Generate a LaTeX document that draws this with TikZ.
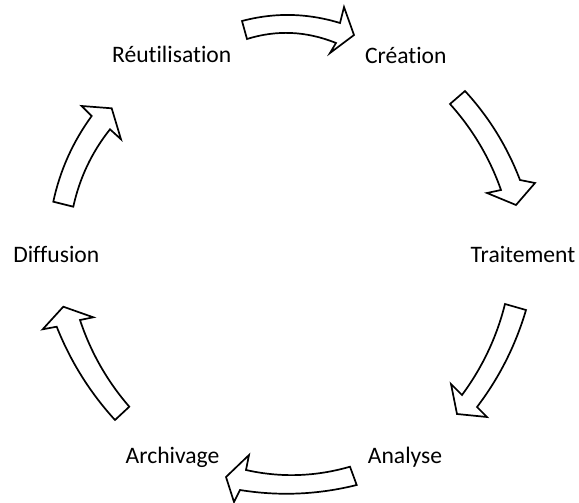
\documentclass[tikz,border=0pt]{standalone}
\usepackage{fontspec}
\setmainfont{Carlito}[Ligatures={NoCommon,NoContextual,NoRare}]
\begin{document}
\begin{tikzpicture}[x=1pt,y=-1pt,
  blockarrow/.style={draw=black,fill=white,line width=1.7pt,line join=miter},
  lbl/.style={anchor=base,inner sep=0pt,font=\fontsize{23.6}{28}\selectfont}]
\useasboundingbox (0,0) rectangle (579,503);

% labels
\node[lbl] (reut) at (171.7,62.7) {Réutilisation};
\node[lbl] (crea) at (405.8,63.3) {Création};
\node[lbl] (trait) at (523,262) {Traitement};
\node[lbl] (diff) at (56.3,262) {Diffusion};
\node[lbl] (arch) at (172.5,463.3) {Archivage};
\node[lbl] (anal) at (405,463.3) {Analyse};

% arrow 1 (top, to the right)
\draw[blockarrow] (242,21) .. controls (274.7,12.3) and (307.3,13) .. (340,23)
  -- (344,7) -- (354,35) -- (330,53) -- (336,43)
  .. controls (306.3,31) and (276.7,29.7) .. (247,39) -- cycle;

% arrow 2 (upper right, downwards)
\draw[blockarrow] (465,91) .. controls (489,117.1) and (507.3,146.8) .. (520,180)
  -- (535,183) -- (516,205) -- (487,193) -- (501,190)
  .. controls (489.7,157.9) and (472.7,129.3) .. (450,104) -- cycle;

% arrow 3 (lower right, down-left)
\draw[blockarrow] (526,310) .. controls (515.6,345.3) and (499.3,377.7) .. (477,407)
  -- (487,417) -- (457,414) -- (451,384) -- (462,395)
  .. controls (482.3,367.5) and (496.7,337.2) .. (505,304) -- cycle;

% arrow 4 (bottom, to the left)
\draw[blockarrow] (350,466.7) .. controls (315.3,476.7) and (280.7,477.8) .. (246,470)
  -- (249,455) -- (226,477) -- (234,502) -- (240,490)
  .. controls (278.9,496.3) and (317.8,494.7) .. (356.7,485) -- cycle;

% arrow 5 (lower left, upwards)
\draw[blockarrow] (115,420) .. controls (89.9,392.5) and (70.5,361.4) .. (56.7,326.7)
  -- (42.7,329.3) -- (63.3,306.7) -- (93.3,317.3) -- (80,320)
  .. controls (90.7,352.2) and (107.1,381.1) .. (129.3,406.7) -- cycle;

% arrow 6 (upper left, up-right)
\draw[blockarrow] (53.3,201.7) .. controls (60,170.4) and (72.8,141.9) .. (91.7,116)
  -- (81.7,106) -- (111.7,108.3) -- (121,139.3) -- (110,129.3)
  .. controls (91.8,152.2) and (79.6,178) .. (73.3,206.7) -- cycle;
\end{tikzpicture}
\end{document}
